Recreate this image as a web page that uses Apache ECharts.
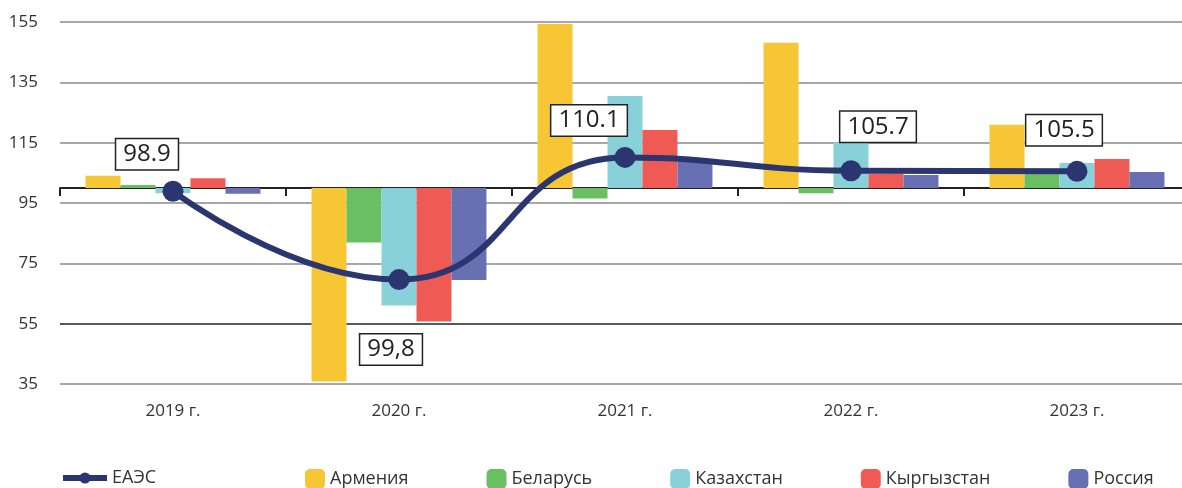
<!DOCTYPE html>
<html>
<head>
<meta charset="utf-8">
<script src="https://cdn.jsdelivr.net/npm/echarts@6/dist/echarts.min.js"></script>
<style>
  html, body { margin: 0; padding: 0; background: #fff; }
  #chart { width: 1182px; height: 488px; }
</style>
</head>
<body>
<div id="chart"></div>
<script>
var years = ['2019 г.', '2020 г.', '2021 г.', '2022 г.', '2023 г.'];
var base = 100;

var armenia    = [104.0, 35.8, 154.3, 148.1, 120.9];
var belarus    = [101.0, 81.9, 96.5, 98.2, 104.6];
var kazakhstan = [98.2, 61.0, 130.5, 115.1, 108.3];
var kyrgyzstan = [103.2, 55.7, 119.2, 104.6, 109.6];
var russia     = [98.1, 69.5, 109.6, 104.3, 105.3];

var eaes       = [98.9, 69.6, 110.1, 105.7, 105.5];
var eaesLabels = ['98.9', '99,8', '110.1', '105.7', '105.5'];
// where each label box sits relative to its point
var labelOffsets = [[-26, -37], [-8, 70], [-36, -37], [27, -44], [-13, -41]];

var myChart = echarts.init(document.getElementById('chart'));

function shift(arr) {
  return arr.map(function (v) { return +(v - base).toFixed(2); });
}

function barSeries(name, data, color) {
  return {
    name: name,
    type: 'bar',
    xAxisIndex: 0,
    data: shift(data),
    itemStyle: { color: color },
    barGap: 0,
    barCategoryGap: '22.6%'
  };
}

var font = '"Open Sans", sans-serif';

option = {
  animation: false,
  textStyle: { fontFamily: font },
  grid: { left: 60, width: 1130, top: 22, bottom: 104, outerBoundsMode: 'none' },
  legend: [{
    left: 60,
    top: 469,
    padding: 0,
    itemWidth: 44,
    itemHeight: 14,
    lineStyle: { width: 6 },
    textStyle: { fontSize: 18, color: '#333', fontFamily: font },
    data: ['ЕАЭС']
  }, {
    left: 305,
    top: 469,
    padding: 0,
    itemWidth: 20,
    itemHeight: 20,
    itemGap: 78,
    textStyle: { fontSize: 18, color: '#333', fontFamily: font },
    data: ['Армения', 'Беларусь', 'Казахстан', 'Кыргызстан', 'Россия']
  }],
  xAxis: [{
    type: 'category',
    data: years,
    position: 'bottom',
    axisLine: { show: false, onZero: false },
    axisTick: { show: false },
    axisLabel: { fontSize: 17, color: '#333', margin: 19 }
  }, {
    type: 'category',
    data: years,
    position: 'top',
    axisLine: { show: true, onZero: true, lineStyle: { color: '#222', width: 2 } },
    axisTick: { show: true, inside: true, length: 8, lineStyle: { color: '#222', width: 2 } },
    axisLabel: { show: false }
  }],
  yAxis: {
    type: 'value',
    min: 35 - base,
    max: 155 - base,
    interval: 20,
    axisLine: { show: false },
    axisTick: { show: false },
    axisLabel: {
      fontSize: 17,
      color: '#333',
      margin: 22,
      formatter: function (v) { return Math.round(v + base); }
    },
    splitLine: {
      lineStyle: {
        color: ['#8a8a8a', '#222', '#8a8a8a', '#8a8a8a', '#8a8a8a', '#8a8a8a', '#8a8a8a'],
        width: 1.5
      }
    }
  },
  series: [
    barSeries('Армения', armenia, '#F7C634'),
    barSeries('Беларусь', belarus, '#6ABF62'),
    barSeries('Казахстан', kazakhstan, '#88D1D8'),
    barSeries('Кыргызстан', kyrgyzstan, '#F05A55'),
    barSeries('Россия', russia, '#6670B3'),
    {
      name: 'ЕАЭС',
      type: 'line',
      xAxisIndex: 0,
      smooth: 0.5,
      z: 5,
      symbol: 'circle',
      symbolSize: 21,
      lineStyle: { color: '#2B3670', width: 6 },
      itemStyle: { color: '#2B3670' },
      data: shift(eaes).map(function (v, i) {
        return {
          value: v,
          label: {
            show: true,
            position: 'inside',
            offset: labelOffsets[i],
            formatter: eaesLabels[i],
            fontSize: 24,
            color: '#222',
            fontFamily: font,
            backgroundColor: '#fff',
            borderColor: '#222',
            borderWidth: 1.5,
            padding: [4, 7, 2, 7]
          }
        };
      })
    }
  ]
};

myChart.setOption(option);
</script>
</body>
</html>
